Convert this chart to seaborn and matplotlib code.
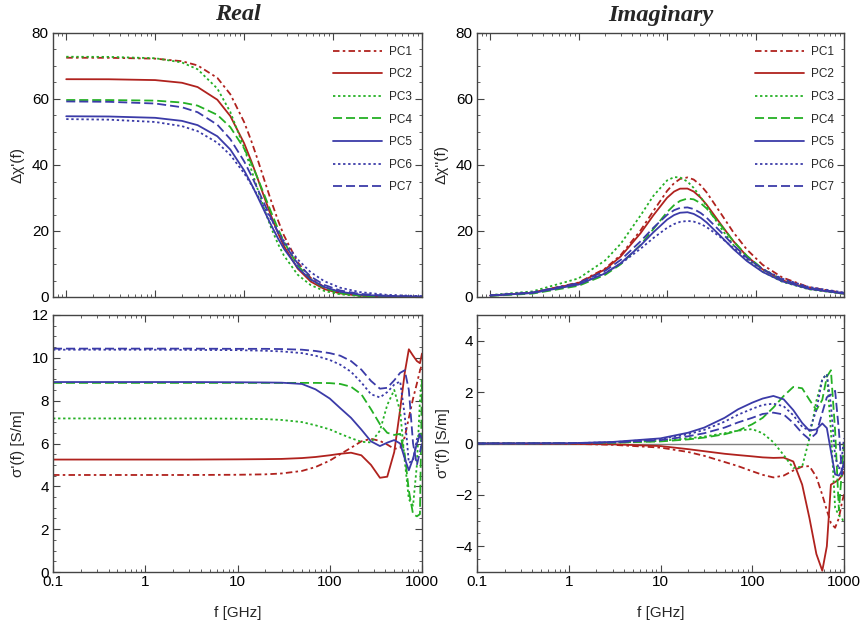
import numpy as np
import pandas as pd
import matplotlib
matplotlib.use("Agg")
import matplotlib.pyplot as plt
import seaborn as sns
from matplotlib.ticker import LogLocator, MultipleLocator, NullFormatter, FixedLocator, FixedFormatter

# ---------------- data ----------------
SERIES = ["PC1", "PC2", "PC3", "PC4", "PC5", "PC6", "PC7"]

F_TOP = [0.1, 0.3, 1, 2, 3, 5, 7, 10, 12, 14, 17, 20, 24, 28, 40, 56, 80, 120, 200, 400, 1000]

RE_PC1 = [72.5, 72.48, 72.23, 71.45, 70.18, 66.40, 61.44, 53.02, 47.42, 42.15, 35.17, 29.36, 23.27, 18.69, 10.54, 5.79, 2.96, 1.35, 0.49, 0.12, 0.02]
RE_PC2 = [66.0, 65.98, 65.73, 64.92, 63.62, 59.78, 54.82, 46.60, 41.27, 36.35, 29.96, 24.77, 19.43, 15.48, 8.62, 4.70, 2.39, 1.08, 0.39, 0.10, 0.02]
RE_PC3 = [72.8, 72.76, 72.36, 71.07, 69.01, 63.16, 56.04, 45.21, 38.75, 33.15, 26.34, 21.15, 16.12, 12.58, 6.76, 3.61, 1.82, 0.82, 0.30, 0.07, 0.01]
RE_PC4 = [59.7, 59.68, 59.51, 58.93, 57.99, 55.19, 51.47, 45.01, 40.61, 36.40, 30.71, 25.89, 20.72, 16.77, 9.59, 5.31, 2.73, 1.24, 0.45, 0.11, 0.02]
RE_PC5 = [54.77, 54.70, 54.30, 53.37, 52.08, 48.70, 44.68, 38.36, 34.36, 30.69, 25.90, 21.95, 17.80, 14.65, 8.87, 5.30, 3.01, 1.58, 0.72, 0.27, 0.08]
RE_PC6 = [53.91, 53.74, 53.04, 51.77, 50.26, 46.77, 43.03, 37.52, 34.13, 31.05, 27.0, 23.60, 19.94, 17.04, 11.39, 7.52, 4.76, 2.82, 1.49, 0.66, 0.25]
RE_PC7 = [59.26, 59.15, 58.63, 57.50, 56.00, 52.21, 47.83, 41.12, 36.91, 33.08, 28.09, 23.97, 19.62, 16.29, 10.12, 6.21, 3.64, 1.98, 0.95, 0.38, 0.13]

IM_PC1 = [0.44, 1.32, 4.38, 8.66, 12.76, 20.12, 26.06, 32.14, 34.49, 35.77, 36.23, 35.59, 33.85, 31.71, 25.56, 19.65, 14.35, 9.78, 5.94, 2.98, 1.20]
IM_PC2 = [0.43, 1.28, 4.24, 8.38, 12.31, 19.29, 24.76, 30.07, 31.95, 32.83, 32.86, 31.96, 30.08, 27.97, 22.24, 16.97, 12.32, 8.38, 5.08, 2.55, 1.02]
IM_PC3 = [0.57, 1.70, 5.65, 11.10, 16.17, 24.67, 30.65, 35.32, 36.32, 36.25, 34.98, 33.05, 30.23, 27.53, 21.13, 15.81, 11.36, 7.68, 4.64, 2.33, 0.93]
IM_PC4 = [0.34, 1.02, 3.40, 6.73, 9.94, 15.77, 20.59, 25.72, 27.84, 29.12, 29.84, 29.59, 28.42, 26.83, 21.92, 17.00, 12.46, 8.53, 5.19, 2.61, 1.04]
IM_PC5 = [0.42, 1.20, 3.77, 7.17, 10.29, 15.59, 19.61, 23.45, 24.83, 25.53, 25.69, 25.18, 24.0, 22.59, 18.53, 14.56, 10.88, 7.61, 4.75, 2.47, 1.03]
IM_PC6 = [0.52, 1.40, 4.04, 7.28, 10.09, 14.60, 17.87, 20.96, 22.11, 22.76, 23.06, 22.85, 22.13, 21.18, 18.17, 14.90, 11.61, 8.48, 5.55, 3.04, 1.35]
IM_PC7 = [0.49, 1.37, 4.22, 7.94, 11.27, 16.85, 20.99, 24.89, 26.30, 27.00, 27.15, 26.65, 25.45, 24.03, 19.89, 15.77, 11.89, 8.40, 5.30, 2.79, 1.18]

F_BOT = [0.1, 1, 3, 10, 20, 30, 50, 70, 100, 130, 170, 220, 280, 350, 420, 500, 580, 650, 720, 800, 880, 950, 1000]

SR_PC1 = [4.53, 4.53, 4.53, 4.54, 4.56, 4.60, 4.72, 4.90, 5.20, 5.50, 5.80, 6.10, 6.22, 6.12, 5.95, 5.75, 5.80, 6.30, 7.20, 8.10, 8.80, 9.40, 9.70]
SR_PC2 = [5.25, 5.25, 5.25, 5.26, 5.27, 5.28, 5.32, 5.37, 5.45, 5.52, 5.57, 5.45, 5.00, 4.40, 4.45, 5.60, 7.60, 9.30, 10.40, 10.10, 9.85, 9.75, 10.20]
SR_PC3 = [7.17, 7.17, 7.17, 7.16, 7.14, 7.10, 7.00, 6.85, 6.66, 6.45, 6.25, 6.08, 6.05, 6.60, 7.80, 8.50, 7.50, 5.20, 3.40, 3.10, 5.00, 8.00, 9.10]
SR_PC4 = [8.83, 8.83, 8.83, 8.83, 8.83, 8.83, 8.83, 8.83, 8.82, 8.78, 8.65, 8.30, 7.60, 6.90, 6.50, 6.40, 6.45, 5.50, 3.80, 2.70, 2.60, 2.70, 9.00]
SR_PC5 = [8.87, 8.87, 8.87, 8.86, 8.85, 8.84, 8.78, 8.53, 8.10, 7.65, 7.20, 6.65, 6.10, 5.88, 6.04, 6.16, 6.00, 5.30, 4.75, 5.30, 6.00, 6.40, 6.20]
SR_PC6 = [10.38, 10.38, 10.37, 10.36, 10.33, 10.30, 10.22, 10.10, 9.90, 9.68, 9.35, 8.85, 8.30, 8.15, 8.40, 8.75, 8.90, 7.30, 5.10, 5.20, 6.20, 6.50, 6.00]
SR_PC7 = [10.43, 10.43, 10.43, 10.42, 10.42, 10.41, 10.38, 10.32, 10.22, 10.10, 9.85, 9.45, 8.92, 8.56, 8.60, 8.95, 9.30, 9.42, 8.50, 6.00, 5.00, 5.60, 6.00]

SI_PC1 = [0, -0.01, -0.05, -0.16, -0.33, -0.48, -0.72, -0.88, -1.08, -1.22, -1.32, -1.25, -1.05, -0.90, -0.88, -1.30, -2.00, -2.60, -3.10, -3.28, -2.90, -2.30, -1.98]
SI_PC2 = [0, -0.01, -0.03, -0.10, -0.22, -0.30, -0.40, -0.45, -0.50, -0.54, -0.56, -0.55, -0.70, -1.60, -2.90, -4.30, -4.95, -4.00, -1.60, -1.50, -1.40, -1.25, -1.10]
SI_PC3 = [0, 0.01, 0.03, 0.10, 0.20, 0.27, 0.40, 0.50, 0.56, 0.40, 0.05, -0.45, -0.95, -0.90, 0.20, 1.66, 2.50, 2.70, 0.50, -2.50, -2.80, -2.90, -3.10]
SI_PC4 = [0, 0.01, 0.03, 0.08, 0.16, 0.23, 0.36, 0.50, 0.75, 1.00, 1.40, 1.85, 2.20, 2.15, 1.70, 1.30, 1.70, 2.60, 2.85, 0.50, -2.60, -1.00, 0.00]
SI_PC5 = [0, 0.01, 0.06, 0.20, 0.42, 0.62, 1.00, 1.33, 1.59, 1.75, 1.85, 1.72, 1.30, 0.80, 0.50, 0.55, 0.78, 0.60, -0.30, -1.20, -1.25, -1.05, -0.70]
SI_PC6 = [0, 0.01, 0.05, 0.17, 0.36, 0.53, 0.85, 1.12, 1.35, 1.50, 1.55, 1.45, 1.10, 0.65, 0.50, 1.30, 2.50, 2.70, 1.50, -0.50, -1.00, -0.50, 0.20]
SI_PC7 = [0, 0.01, 0.04, 0.13, 0.28, 0.40, 0.62, 0.82, 1.00, 1.15, 1.20, 1.13, 0.80, 0.40, 0.16, 0.40, 1.20, 1.80, 1.90, 2.05, 0.50, -1.20, -0.80]

RE = [RE_PC1, RE_PC2, RE_PC3, RE_PC4, RE_PC5, RE_PC6, RE_PC7]
IM = [IM_PC1, IM_PC2, IM_PC3, IM_PC4, IM_PC5, IM_PC6, IM_PC7]
SR = [SR_PC1, SR_PC2, SR_PC3, SR_PC4, SR_PC5, SR_PC6, SR_PC7]
SI = [SI_PC1, SI_PC2, SI_PC3, SI_PC4, SI_PC5, SI_PC6, SI_PC7]

# ---------------- style ----------------
RED = "#B0221E"
GREEN = "#24B024"
BLUE = "#3B3BA8"
COLORS = [RED, RED, GREEN, GREEN, BLUE, BLUE, BLUE]
DASHDOT = (0, (3.6, 1.8, 1.4, 1.8))
DOTTED = (0, (1.3, 1.5))
DASHED = (0, (5.0, 2.2))
STYLES = [DASHDOT, "-", DOTTED, DASHED, "-", DOTTED, DASHED]

sns.set_theme(style="ticks")
plt.rcParams["font.family"] = ["Liberation Sans", "DejaVu Sans"]
plt.rcParams.update({
    "xtick.direction": "in", "ytick.direction": "in",
    "xtick.top": True, "ytick.right": True,
    "xtick.major.size": 5, "ytick.major.size": 5,
    "xtick.minor.size": 2.5, "ytick.minor.size": 2.5,
    "xtick.major.width": 0.8, "ytick.major.width": 0.8,
    "xtick.minor.width": 0.6, "ytick.minor.width": 0.6,
    "xtick.color": "#444444", "ytick.color": "#444444",
    "xtick.labelcolor": "black", "ytick.labelcolor": "black",
    "axes.edgecolor": "#444444", "axes.linewidth": 1.0,
    "xtick.labelsize": 11, "ytick.labelsize": 11,
    "axes.labelsize": 11,
    "xtick.major.pad": 2.5, "ytick.major.pad": 3,
})

fig = plt.figure(figsize=(8.64, 6.24), dpi=100)
LX, RX = 53 / 864, 477 / 864
LW_, RW_ = (422 - 53) / 864, (844 - 477) / 864
TY, TH = 1 - 297 / 624, (297 - 33) / 624
BY, BH = 1 - 572 / 624, (572 - 315) / 624
ax_tl = fig.add_axes([LX, TY, LW_, TH])
ax_tr = fig.add_axes([RX, TY, RW_, TH])
ax_bl = fig.add_axes([LX, BY, LW_, BH])
ax_br = fig.add_axes([RX, BY, RW_, BH])


def draw(ax, freq, data, with_label):
    for name, vals, col, ls in zip(SERIES, data, COLORS, STYLES):
        df = pd.DataFrame({"f": freq, "v": vals})
        sns.lineplot(data=df, x="f", y="v", ax=ax, color=col, linestyle=ls,
                     linewidth=1.3, label=name if with_label else None,
                     legend=False, estimator=None, sort=False)


ax_br.axhline(0, color="#808080", lw=1.0, zorder=0)

draw(ax_tl, F_TOP, RE, True)
draw(ax_tr, F_TOP, IM, True)
draw(ax_bl, F_BOT, SR, False)
draw(ax_br, F_BOT, SI, False)

for ax in (ax_tl, ax_tr, ax_bl, ax_br):
    ax.set_xscale("log")
    ax.xaxis.set_major_locator(FixedLocator([0.1, 1, 10, 100, 1000]))
    ax.xaxis.set_minor_locator(LogLocator(base=10, subs=np.arange(2, 10) * 1.0, numticks=20))
    ax.xaxis.set_minor_formatter(NullFormatter())
    ax.set_xlabel("")
    ax.set_ylabel("")

for ax in (ax_tl, ax_tr):
    ax.set_xlim(0.071, 1000)
    ax.set_ylim(0, 80)
    ax.yaxis.set_major_locator(MultipleLocator(20))
    ax.yaxis.set_minor_locator(MultipleLocator(5))
    ax.tick_params(axis="x", which="both", labelbottom=False)

for ax in (ax_bl, ax_br):
    ax.set_xlim(0.1, 1000)
    ax.xaxis.set_major_formatter(FixedFormatter(["0.1", "1", "10", "100", "1000"]))
    ax.set_xlabel("f [GHz]", labelpad=12)
    ax.yaxis.set_minor_locator(MultipleLocator(0.5))

ax_bl.set_ylim(0, 12)
ax_bl.yaxis.set_major_locator(MultipleLocator(2))
ax_br.set_ylim(-5, 5)
ax_br.yaxis.set_major_locator(MultipleLocator(2))

ax_tl.set_ylabel("\u0394\u03c7'(f)", labelpad=5)
ax_tr.set_ylabel("\u0394\u03c7''(f)", labelpad=5)
ax_bl.set_ylabel("\u03c3'(f) [S/m]", labelpad=5)
ax_br.set_ylabel("\u03c3''(f) [S/m]", labelpad=4)

title_kw = dict(fontsize=17.5, fontweight="bold", fontstyle="italic",
                family=["Liberation Serif", "DejaVu Serif"], pad=9)
ax_tl.set_title("Real", **title_kw)
ax_tr.set_title("Imaginary", **title_kw)

for ax in (ax_tl, ax_tr):
    ax.legend(loc="upper right", bbox_to_anchor=(0.985, 0.97), frameon=False,
              fontsize=8.5, handlelength=4.1, handletextpad=0.6,
              labelspacing=0.90, borderaxespad=0.0)

fig.savefig("out.png", dpi=100)
